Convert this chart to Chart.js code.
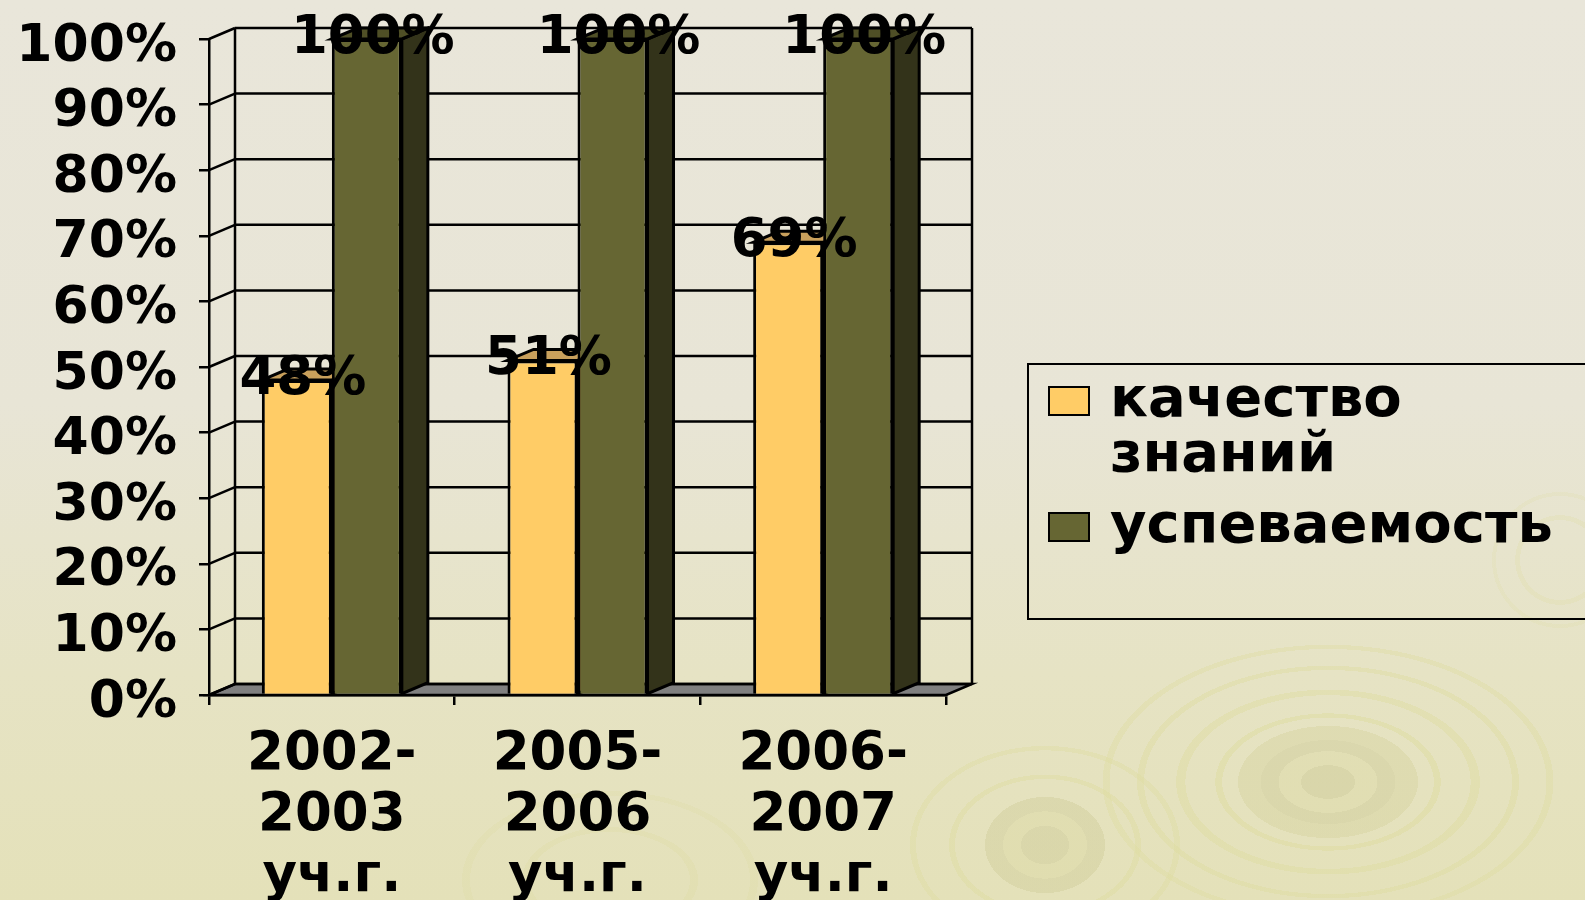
<!DOCTYPE html>
<html>
<head>
<meta charset="utf-8">
<script src="https://cdn.jsdelivr.net/npm/chart.js@4/dist/chart.umd.min.js"></script>
<style>
  html, body { margin: 0; padding: 0; }
  body {
    width: 1585px; height: 900px; overflow: hidden;
    background:
      radial-gradient(ellipse 90px 56px at 1328px 782px, rgba(205,202,150,0.5) 0 30%, rgba(220,217,165,0.45) 30% 55%, rgba(205,202,150,0.45) 55% 75%, rgba(212,209,155,0.4) 75% 100%, transparent 100%),
      radial-gradient(ellipse 230px 140px at 1328px 782px, transparent 0 46%, rgba(222,220,160,0.5) 46% 49%, transparent 49% 62%, rgba(222,220,160,0.45) 62% 66%, transparent 66% 80%, rgba(222,220,160,0.45) 80% 83%, transparent 83% 95%, rgba(222,220,160,0.4) 95% 98%, transparent 98%),
      radial-gradient(ellipse 60px 48px at 1045px 845px, rgba(205,202,150,0.45) 0 40%, rgba(218,215,160,0.4) 40% 70%, rgba(205,202,150,0.4) 70% 100%, transparent 100%),
      radial-gradient(ellipse 150px 110px at 1045px 845px, transparent 0 60%, rgba(222,220,160,0.45) 60% 64%, transparent 64% 86%, rgba(222,220,160,0.4) 86% 90%, transparent 90%),
      radial-gradient(ellipse 200px 120px at 610px 880px, transparent 0 40%, rgba(222,220,165,0.35) 40% 44%, transparent 44% 70%, rgba(222,220,165,0.3) 70% 74%, transparent 74%),
      radial-gradient(ellipse 80px 80px at 1560px 560px, transparent 0 50%, rgba(222,220,160,0.25) 50% 56%, transparent 56% 80%, rgba(222,220,160,0.2) 80% 85%, transparent 85%),
      linear-gradient(180deg, #e9e6da 0%, #e8e5d6 45%, #e6e3c4 75%, #e4e1b9 100%);
  }
  #wrap { position: absolute; left: 0; top: 0; width: 1585px; height: 900px; }
</style>
</head>
<body>
<div id="wrap"><canvas id="chart" width="1585" height="900"></canvas></div>
<script>
// data
const categories = [
    ['2002-', '2003', 'уч.г.'],
    ['2005-', '2006', 'уч.г.'],
    ['2006-', '2007', 'уч.г.']
];
const quality = [48, 51, 69];      // качество знаний
const progress = [100, 100, 100];  // успеваемость
const seriesLabels = ['качество знаний', 'успеваемость'];
const legendLines = [['качество', 'знаний'], ['успеваемость']];

// colours
const frontColors = ['#ffcc66', '#666633'];
const topColors = ['#c9a05c', '#4f4f26'];
const sideColors = ['#b38f4c', '#33331a'];

const FONT = '"DejaVu Sans", Arial, sans-serif';
const DX = 26, DY = -11;  // 3d depth offset

function line(ctx, x1, y1, x2, y2) {
    ctx.beginPath();
    ctx.moveTo(x1, y1);
    ctx.lineTo(x2, y2);
    ctx.stroke();
}

function poly(ctx, pts) {
    ctx.beginPath();
    ctx.moveTo(pts[0][0], pts[0][1]);
    for (let i = 1; i < pts.length; i++) ctx.lineTo(pts[i][0], pts[i][1]);
    ctx.closePath();
    ctx.fill();
    ctx.stroke();
}

// back wall, floor and bar depth faces
const depthPlugin = {
    id: 'depth',
    beforeDatasetsDraw(chart) {
        const { ctx, chartArea: a } = chart;
        const y = chart.scales.y;
        ctx.save();
        ctx.strokeStyle = '#000';
        ctx.lineWidth = 2.5;

        // floor
        ctx.fillStyle = '#808080';
        poly(ctx, [[a.left, a.bottom], [a.right, a.bottom], [a.right + DX, a.bottom + DY], [a.left + DX, a.bottom + DY]]);

        // back wall grid + left wall diagonals
        y.ticks.forEach(t => {
            const py = y.getPixelForValue(t.value);
            line(ctx, a.left + DX, py + DY, a.right + DX, py + DY);
            line(ctx, a.left, py, a.left + DX, py + DY);
        });
        line(ctx, a.left + DX, a.top + DY, a.left + DX, a.bottom + DY);
        line(ctx, a.right + DX, a.top + DY, a.right + DX, a.bottom + DY);

        // bar tops and sides
        ctx.lineWidth = 3;
        chart.data.datasets.forEach((ds, i) => {
            const meta = chart.getDatasetMeta(i);
            meta.data.forEach(bar => {
                const l = bar.x - bar.width / 2, r = bar.x + bar.width / 2;
                ctx.fillStyle = sideColors[i];
                poly(ctx, [[r, bar.y], [r + DX, bar.y + DY], [r + DX, bar.base + DY], [r, bar.base]]);
                ctx.fillStyle = topColors[i];
                poly(ctx, [[l, bar.y], [l + DX, bar.y + DY], [r + DX, bar.y + DY], [r, bar.y]]);
            });
        });
        ctx.restore();
    },
    afterDatasetsDraw(chart) {
        const { ctx } = chart;
        ctx.save();
        ctx.fillStyle = '#000';
        ctx.font = 'bold 53px ' + FONT;
        ctx.textAlign = 'center';
        ctx.textBaseline = 'middle';
        chart.data.datasets.forEach((ds, i) => {
            chart.getDatasetMeta(i).data.forEach((bar, j) => {
                ctx.fillText(ds.data[j] + '%', bar.x + 6, bar.y);
            });
        });
        ctx.restore();
    }
};

// boxed legend with wrapped labels
const legendPlugin = {
    id: 'boxLegend',
    afterDraw(chart) {
        const { ctx } = chart;
        ctx.save();
        ctx.strokeStyle = '#000';
        ctx.lineWidth = 2;
        ctx.strokeRect(1028, 364, 600, 255);

        const rows = [401, 527];
        ctx.font = 'bold 56px ' + FONT;
        ctx.textBaseline = 'middle';
        ctx.textAlign = 'left';
        legendLines.forEach((lines, i) => {
            const cy = rows[i];
            ctx.fillStyle = frontColors[i];
            ctx.fillRect(1049, cy - 14, 40, 28);
            ctx.strokeRect(1049, cy - 14, 40, 28);
            ctx.fillStyle = '#000';
            lines.forEach((txt, k) => ctx.fillText(txt, 1110, cy + k * 55));
        });
        ctx.restore();
    }
};

new Chart(document.getElementById('chart'), {
    type: 'bar',
    data: {
        labels: categories,
        datasets: [
            { label: seriesLabels[0], data: quality, backgroundColor: frontColors[0] },
            { label: seriesLabels[1], data: progress, backgroundColor: frontColors[1] }
        ]
    },
    options: {
        responsive: false,
        animation: false,
        events: [],
        layout: { padding: { top: 39, right: 639, left: 0, bottom: 0 } },
        datasets: {
            bar: {
                borderColor: '#000',
                borderWidth: 3,
                categoryPercentage: 0.57,
                barPercentage: 1
            }
        },
        plugins: {
            legend: { display: false },
            tooltip: { enabled: false }
        },
        scales: {
            x: {
                offset: true,
                afterFit(scale) { scale.height = 205; scale.paddingLeft = 0; scale.paddingRight = 0; },
                grid: { offset: true, drawOnChartArea: false, tickLength: 10, color: '#000', lineWidth: 2.5 },
                border: { display: true, color: '#000', width: 2.5 },
                ticks: {
                    color: '#000',
                    padding: 20,
                    maxRotation: 0,
                    autoSkip: false,
                    font: { family: FONT, weight: 'bold', size: 53, lineHeight: 1.15 }
                }
            },
            y: {
                min: 0,
                max: 100,
                afterFit(scale) { scale.width = 209; scale.paddingTop = 0; scale.paddingBottom = 0; },
                grid: { drawOnChartArea: false, tickLength: 10, color: '#000', lineWidth: 2.5 },
                border: { display: true, color: '#000', width: 2.5 },
                ticks: {
                    stepSize: 10,
                    autoSkip: false,
                    color: '#000',
                    padding: 22,
                    labelOffset: 8,
                    font: { family: FONT, weight: 'bold', size: 52 },
                    callback: v => v + '%'
                }
            }
        }
    },
    plugins: [depthPlugin, legendPlugin]
});
</script>
</body>
</html>
